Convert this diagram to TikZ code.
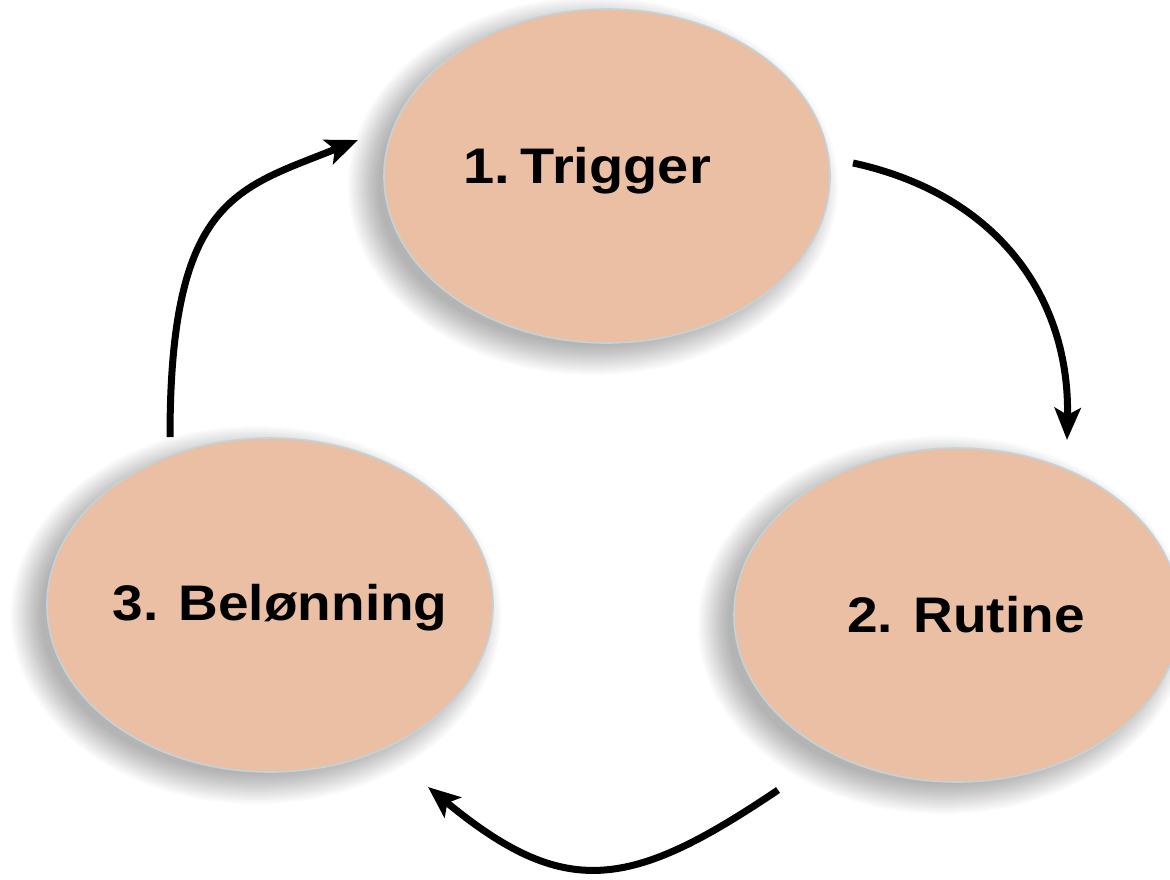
\documentclass[tikz,border=0pt]{standalone}
\usepackage{fontspec}
\setmainfont{Liberation Sans}
\usepackage{graphicx}
\usetikzlibrary{arrows.meta,shapes.geometric,calc}
\definecolor{eggfill}{RGB}{235,191,164}
\definecolor{eggline}{RGB}{192,212,218}
\begin{document}
\begin{tikzpicture}[x=0.5pt,y=-0.5pt,
  stage/.style={ellipse,draw=eggline,line width=0.8pt,fill=eggfill,
    minimum width=223pt,minimum height=167pt,inner sep=0pt},
  stagetext/.style={anchor=base,font=\fontsize{25}{30}\selectfont\bfseries},
  cyclearrow/.style={line width=3.5pt,-{Stealth[length=16pt,width=13pt,inset=3.5pt]}}]
\useasboundingbox (0,0) rectangle (1170,879);
\fill[white] (0,0) rectangle (1170,879);
% soft shadows
\foreach \cx/\cy in {607/176, 957/615, 270/605} {
  \foreach \i in {0,...,15} {
    \fill[black,opacity=0.02] (\cx-14,\cy+10) ellipse [x radius={245-2*\i}, y radius={189-2*\i}];
  }
}
% stages
\node[stage] (trig) at (607,176) {};
\node[stage] (rut) at (957,615) {};
\node[stage] (bel) at (270,605) {};
\node[stagetext] (ttrig) at (587,183) {\scalebox{1.12}[1]{1.\hspace{0.2em}Trigger}};
\node[stagetext] (trut) at (966,632) {\scalebox{1.1}[1]{2. Rutine}};
\node[stagetext] (tbel) at (280,620) {\scalebox{1.1}[1]{3. Belønning}};
% arrow ends
\coordinate (a1s) at (853,163);
\coordinate (a1e) at (1067,440);
\coordinate (a2s) at (778,790);
\coordinate (a2e) at (428,787);
\coordinate (a3s) at (170,437);
\coordinate (a3e) at (358,140);
\draw[cyclearrow] (a1s) .. controls (1000,195) and (1070,300) .. (a1e);
\draw[cyclearrow] (a2s) .. controls (630,890) and (565,900) .. (a2e);
\draw[cyclearrow] (a3s) .. controls (170,197) and (237.5,188.75) .. (a3e);
\end{tikzpicture}
\end{document}
